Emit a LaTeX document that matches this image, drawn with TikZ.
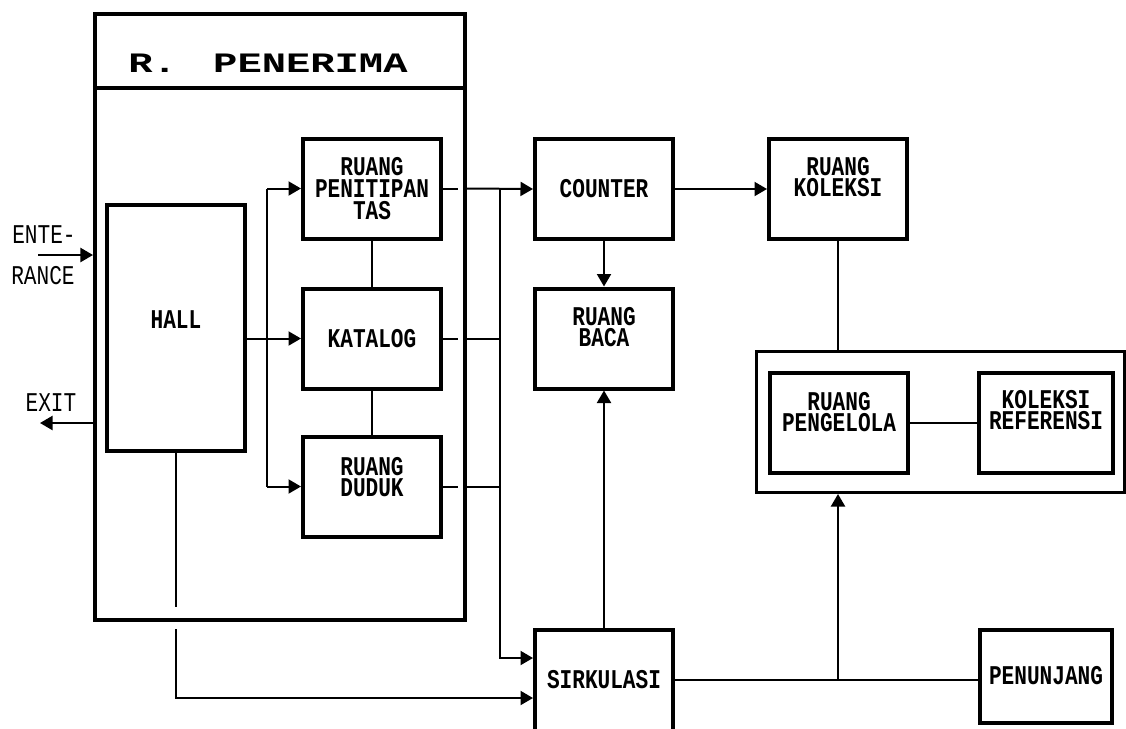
\documentclass[tikz,border=0pt]{standalone}
\usepackage{fontspec}
\setmonofont{Liberation Mono}
\newfontfamily\roomfont[FakeStretch=0.78]{Liberation Mono}
\newfontfamily\titlefont[FakeStretch=1.44]{Liberation Mono}
\usetikzlibrary{arrows.meta,positioning,calc}
\tikzset{
  room/.style={draw, line width=0.8mm, minimum width=27.6mm, minimum height=20mm, inner sep=0pt, align=center, font=\roomfont\bfseries\fontsize{15.4}{12.4}\selectfont},
  wall/.style={draw, line width=0.8mm, inner sep=0pt},
  grp/.style={draw, line width=0.6mm, inner sep=0pt},
  sep/.style={line width=0.7mm},
  txt/.style={align=center, inner sep=0pt, font=\roomfont\bfseries\fontsize{15.4}{12.4}\selectfont},
  side/.style={align=center, inner sep=0pt, font=\roomfont\fontsize{15.4}{12.4}\selectfont},
  ttl/.style={inner sep=0pt, font=\titlefont\bfseries\fontsize{16}{12}\selectfont},
  ln/.style={line width=0.4mm},
  arr/.style={ln, -{Triangle[length=2.5mm,width=2.8mm]}},
}
\begin{document}
\begin{tikzpicture}[x=0.2mm,y=-0.2mm]
  \useasboundingbox (0,0) rectangle (1126,728);
  % R. Penerima
  \node[wall, minimum width=74mm, minimum height=121.2mm] (outer) at (280,317) {};
  \draw[sep] ([yshift=-15.2mm]outer.north west) -- ([yshift=-15.2mm]outer.north east);
  \node[ttl] (ttl) at (268,63) {R.~\hspace{2.4mm}PENERIMA};
  \node[room, minimum height=49.2mm] (hall) at (176,328) {};
  \node[txt] (hall-t) at (176,320) {HALL};
  \node[room] (titip) at (372,188.5) {RUANG\\PENITIPAN\\TAS};
  \node[room] (katalog) at (372,338.5) {KATALOG};
  \node[room] (duduk) at (372,486.5) {};
  \node[txt] (duduk-t) at (372,477) {RUANG\\DUDUK};
  % rooms outside
  \node[room] (counter) at (604,189) {COUNTER};
  \node[room] (baca) at (604,338.5) {};
  \node[txt] (baca-t) at (604,327) {RUANG\\BACA};
  \node[room, minimum height=20.2mm] (sirk) at (604,680) {SIRKULASI};
  \node[room] (koleksi) at (838,189) {};
  \node[txt] (koleksi-t) at (838,177) {RUANG\\KOLEKSI};
  \node[grp, minimum width=73.6mm, minimum height=28.2mm] (kelola) at (940.5,422) {};
  \node[room] (pengelola) at (839,422.5) {};
  \node[txt] (pengelola-t) at (839,412) {RUANG\\PENGELOLA};
  \node[room, minimum width=26.8mm] (referensi) at (1046,422.5) {};
  \node[txt] (referensi-t) at (1046,410) {KOLEKSI\\REFERENSI};
  \node[room, minimum width=26.4mm, minimum height=18.6mm] (penunjang) at (1046,676) {PENUNJANG};
  % entrance / exit
  \coordinate (ent) at (38,255);
  \coordinate (ext) at (40,423);
  \draw[arr] (ent) -- (ent -| outer.west);
  \draw[arr] (ext -| outer.west) -- (ext);
  \node[side] (ent-t) at (44,235) {ENTE-};
  \node[side] (ran-t) at (43,276) {RANCE};
  \node[side] (ext-t) at (51,403) {EXIT};
  % inside
  \coordinate (hb) at (267,338.5);
  \coordinate (rb) at (500,338.5);
  \draw[arr] (katalog.west -| hall.east) -- (katalog.west);
  \draw[ln] (titip.west -| hb) -- (duduk.west -| hb);
  \draw[arr] (titip.west -| hb) -- (titip.west);
  \draw[arr] (duduk.west -| hb) -- (duduk.west);
  \draw[ln] (titip) -- (katalog);
  \draw[ln] (katalog) -- (duduk);
  \foreach \r in {titip,katalog,duduk} \draw[ln] (\r.east) -- ++(15,0);
  \foreach \r in {katalog,duduk} \draw[ln] (\r.east -| outer.east) -- (\r.east -| rb);
  \draw[arr] (titip.east -| outer.east) -- (counter.west);
  \draw[arr] (titip.east -| rb) |- ($(sirk.west)+(0,-22)$);
  \draw[ln] (hall.south) -- ($(hall.south |- outer.south)+(0,-15)$);
  \draw[arr] ($(hall.south |- outer.south)+(0,7)$) |- ($(sirk.west)+(0,18)$);
  % outside
  \draw[arr] (counter) -- (baca);
  \draw[arr] (sirk) -- (baca);
  \draw[arr] (counter) -- (koleksi);
  \draw[ln] (koleksi) -- (koleksi |- kelola.north);
  \draw[ln] (pengelola) -- (referensi);
  \draw[ln] (sirk.east) -- (sirk.east -| penunjang.west);
  \draw[arr] (sirk.east -| koleksi) -- (koleksi |- kelola.south);
\end{tikzpicture}
\end{document}
